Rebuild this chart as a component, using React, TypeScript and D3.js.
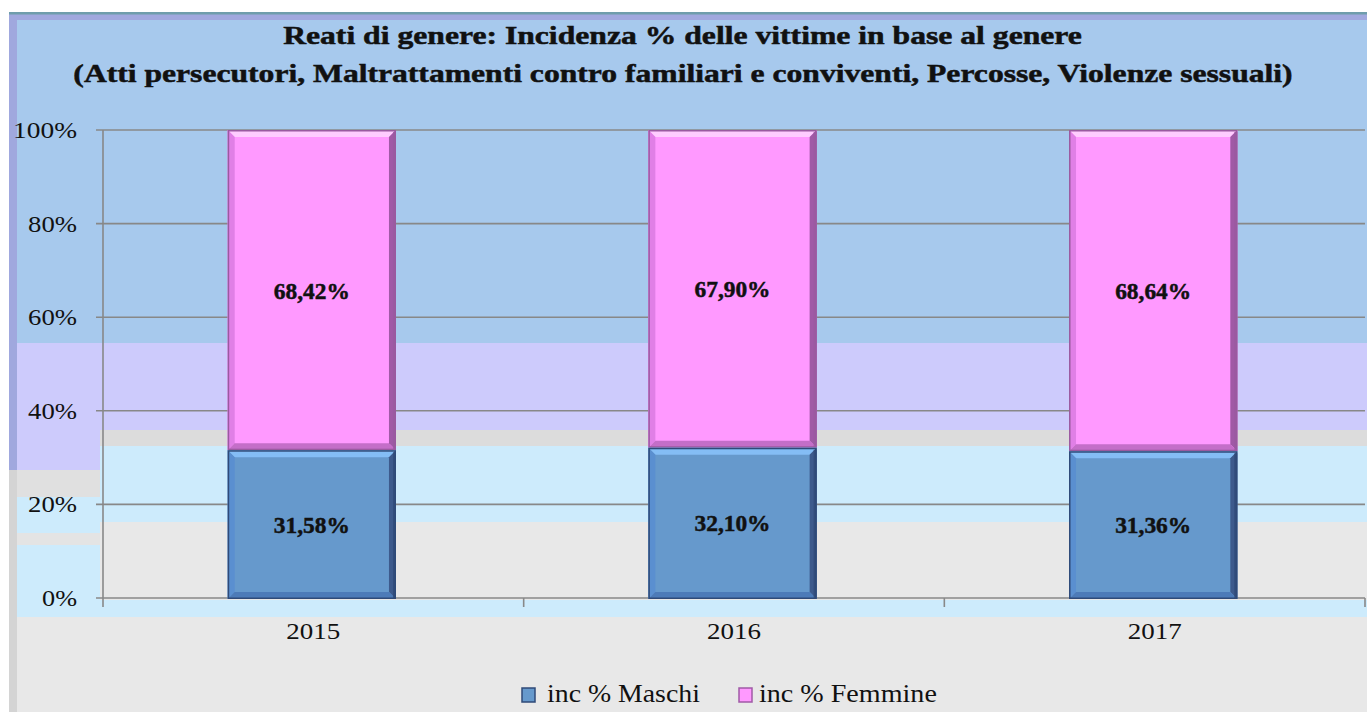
import React, { useLayoutEffect, useRef, useState } from "react";
import * as d3 from "d3";

const TITLE_1 = "Reati di genere: Incidenza % delle vittime in base al genere";
const TITLE_2 = "(Atti persecutori, Maltrattamenti contro familiari e conviventi, Percosse, Violenze sessuali)";
const years = ["2015", "2016", "2017"];
const maschi = [31.58, 32.1, 31.36];
const femmine = [68.42, 67.9, 68.64];
const yTicks = [0, 20, 40, 60, 80, 100];
const seriesNames = ["inc % Maschi", "inc % Femmine"];

const W = 1367;
const H = 712;
const FONT = "'Liberation Serif', 'Times New Roman', serif";

const fmt = (v: number) => v.toFixed(2).replace(".", ",") + "%";

type Pal = { fill: string; top: string; left: string; right: string; bottom: string; edge: string };
const bluePal: Pal = { fill: "#6699cc", top: "#84bdf5", left: "#5a8fd0", right: "#3d5a8c", bottom: "#4d7bb8", edge: "#2f4a78" };
const pinkPal: Pal = { fill: "#ff99ff", top: "#ffccff", left: "#e07fe6", right: "#a05aa6", bottom: "#c46ec8", edge: "#9a5aa0" };

function FitText({ x, y, width, anchor = "middle", size, bold = false, children }: { x: number; y: number; width: number; anchor?: string; size: number; bold?: boolean; children: string }) {
  const ref = useRef<SVGTextElement>(null);
  const [s, setS] = useState(1);
  useLayoutEffect(() => {
    if (ref.current) {
      const w = ref.current.getComputedTextLength();
      if (w > 0) setS(width / w);
    }
  }, [width, children]);
  return (
    <text
      ref={ref}
      transform={`translate(${x},${y}) scale(${s},1)`}
      textAnchor={anchor}
      fontFamily={FONT}
      fontSize={size}
      fontWeight={bold ? "bold" : "normal"}
      fill="#111"
      stroke={bold ? "#111" : "none"}
      strokeWidth={bold ? 0.5 : 0}
    >
      {children}
    </text>
  );
}

function Bevel({ x, y, w, h, p }: { x: number; y: number; w: number; h: number; p: Pal }) {
  const b = 7;
  const x1 = x + w;
  const y1 = y + h;
  return (
    <g>
      <rect x={x} y={y} width={w} height={h} fill={p.fill} />
      <polygon points={`${x},${y} ${x1},${y} ${x1 - b},${y + b} ${x + b},${y + b}`} fill={p.top} />
      <polygon points={`${x},${y} ${x + b},${y + b} ${x + b},${y1 - b} ${x},${y1}`} fill={p.left} />
      <polygon points={`${x1},${y} ${x1},${y1} ${x1 - b},${y1 - b} ${x1 - b},${y + b}`} fill={p.right} />
      <polygon points={`${x},${y1} ${x1},${y1} ${x1 - b},${y1 - b} ${x + b},${y1 - b}`} fill={p.bottom} />
      <rect x={x + 0.75} y={y + 0.75} width={w - 1.5} height={h - 1.5} fill="none" stroke={p.edge} strokeWidth={1.5} />
      <rect x={x1 - 3} y={y + 2} width={3} height={h - 2} fill={p.edge} opacity={0.8} />
    </g>
  );
}

export default function App() {
  const x = d3.scaleBand<string>().domain(years).range([103, 1365]).paddingInner(0).paddingOuter(0);
  const y = d3.scaleLinear().domain([0, 100]).range([598, 130]);
  const bw = x.bandwidth() * 0.4;
  const boundaries = [...years.map((d) => x(d) as number), 1365];

  const bands: [number, number, string][] = [
    [20, 343, "#a7c9ed"],
    [343, 430, "#cdcbfc"],
    [430, 446, "#dcdcdc"],
    [446, 522, "#cdebfc"],
    [522, 600, "#e8e8e8"],
    [600, 617, "#cdebfc"],
    [617, 712, "#e8e8e8"],
  ];
  const leftBands: [number, number, string][] = [
    [343, 470, "#cdcbfc"],
    [470, 497, "#e0e0e0"],
    [497, 533, "#cdebfc"],
    [533, 545, "#e4e4e4"],
    [545, 617, "#cdebfc"],
  ];
  const tickLen: Record<number, number> = { 0: 35, 20: 49, 40: 49, 60: 49, 80: 49, 100: 64 };

  return (
    <svg width={W} height={H} style={{ position: "absolute", left: 0, top: 0, display: "block" }}>
      <rect x={0} y={0} width={W} height={H} fill="#ffffff" />
      {/* frame */}
      <rect x={9} y={12} width={W - 9} height={H - 12} fill="#a0a8de" />
      <rect x={9} y={470} width={8} height={H - 470} fill="#d4d4d4" />
      <rect x={9} y={12} width={W - 9} height={2.5} fill="#6f9dac" />
      {bands.map(([a, b, c], i) => (
        <rect key={"b" + i} x={17} y={a} width={W - 17} height={b - a} fill={c} />
      ))}
      {leftBands.map(([a, b, c], i) => (
        <rect key={"lb" + i} x={17} y={a} width={83} height={b - a} fill={c} />
      ))}

      {/* title */}
      <FitText x={682.5} y={44} width={799} size={25} bold>{TITLE_1}</FitText>
      <FitText x={683} y={82} width={1220} size={26} bold>{TITLE_2}</FitText>

      {/* gridlines */}
      {yTicks.map((t) => (
        <line key={"g" + t} x1={96} x2={1365} y1={y(t)} y2={y(t)} stroke="#888" strokeWidth={1.6} />
      ))}
      <line x1={103} x2={103} y1={y(100)} y2={607} stroke="#888" strokeWidth={1.6} />
      {boundaries.slice(1).map((b, i) => (
        <line key={"bt" + i} x1={b} x2={b} y1={y(0)} y2={607} stroke="#888" strokeWidth={1.6} />
      ))}

      {/* y labels */}
      {yTicks.map((t) => (
        <FitText key={"yl" + t} x={77} y={y(t) + 8} width={tickLen[t]} size={24} anchor="end">{t + "%"}</FitText>
      ))}

      {/* bars */}
      {years.map((yr, i) => {
        const cx = (x(yr) as number) + x.bandwidth() / 2 - 1.5;
        const x0 = cx - bw / 2;
        const mTop = y(maschi[i]);
        const fTop = y(maschi[i] + femmine[i]);
        return (
          <g key={yr}>
            <Bevel x={x0} y={fTop} w={bw} h={mTop - fTop} p={pinkPal} />
            <Bevel x={x0} y={mTop} w={bw} h={y(0) - mTop + 1} p={bluePal} />
            <FitText x={cx} y={(fTop + mTop) / 2 + 8.5} width={76} size={24} bold>{fmt(femmine[i])}</FitText>
            <FitText x={cx} y={(mTop + y(0)) / 2 + 8.5} width={76} size={24} bold>{fmt(maschi[i])}</FitText>
          </g>
        );
      })}

      {/* x labels */}
      {years.map((yr) => (
        <FitText key={"xl" + yr} x={(x(yr) as number) + x.bandwidth() / 2} y={639} width={54} size={24}>{yr}</FitText>
      ))}

      {/* legend */}
      <rect x={522} y={688} width={13} height={14} fill={bluePal.fill} stroke={bluePal.edge} strokeWidth={1.5} />
      <FitText x={547} y={702} width={153} size={25} anchor="start">{seriesNames[0]}</FitText>
      <rect x={739} y={688} width={13} height={14} fill={pinkPal.fill} stroke={pinkPal.right} strokeWidth={1.5} />
      <FitText x={759} y={702} width={178} size={25} anchor="start">{seriesNames[1]}</FitText>
    </svg>
  );
}
